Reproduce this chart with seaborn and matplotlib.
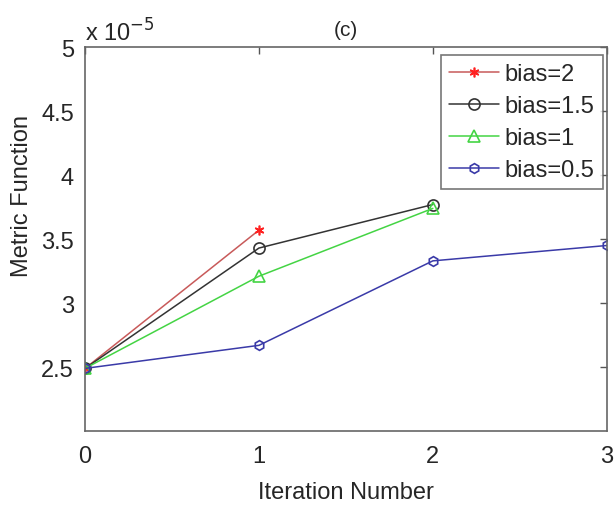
import seaborn as sns
import matplotlib.pyplot as plt
import pandas as pd

# values in units of 1e-5
iters_2 = [0, 1]
bias_2 = [2.49, 3.57]
iters_15 = [0, 1, 2]
bias_15 = [2.49, 3.43, 3.77]
iters_1 = [0, 1, 2]
bias_1 = [2.49, 3.21, 3.74]
iters_05 = [0, 1, 2, 3]
bias_05 = [2.49, 2.67, 3.33, 3.45]

x_ticks = [0, 1, 2, 3]
y_ticks = [2.5, 3, 3.5, 4, 4.5, 5]

sns.set_style('white')
plt.rcParams['font.family'] = ['Liberation Sans', 'DejaVu Sans']

fig = plt.figure(figsize=(6.16, 5.06), dpi=100)
ax = fig.add_axes([0.138, 0.146, 0.847, 0.759])

series = [
    ('bias=2', iters_2, bias_2, '#c85a5a', dict(marker=(6, 2, 0), markersize=7,
                                                 markeredgecolor='#ff2020')),
    ('bias=1.5', iters_15, bias_15, '#333333', dict(marker='o', markersize=8,
                                                     markerfacecolor='none',
                                                     markeredgecolor='#333333')),
    ('bias=1', iters_1, bias_1, '#44d444', dict(marker='^', markersize=9,
                                                 markerfacecolor='none',
                                                 markeredgecolor='#44d444')),
    ('bias=0.5', iters_05, bias_05, '#3a3aa8', dict(marker='h', markersize=7,
                                                     markerfacecolor='none',
                                                     markeredgecolor='#3a3aa8')),
]

for label, xs, ys, color, mk in series:
    df = pd.DataFrame({'x': xs, 'y': ys})
    sns.lineplot(data=df, x='x', y='y', ax=ax, label=label, color=color,
                 linewidth=1.1, markeredgewidth=1.2, **mk)

ax.set_xlim(0, 3)
ax.set_ylim(2.0, 5.0)
ax.set_xticks(x_ticks)
ax.set_xticklabels(['0', '1', '2', '3'])
ax.set_yticks(y_ticks)
ax.set_yticklabels(['2.5', '3', '3.5', '4', '4.5', '5'])
ax.tick_params(direction='in', length=5, labelsize=17, top=True, right=True,
               color='#555555', width=1)
ax.tick_params(axis='x', pad=10)
ax.tick_params(axis='y', pad=8)

for s in ax.spines.values():
    s.set_color('#666666')
    s.set_linewidth(1.2)

ax.set_xlabel('Iteration Number', fontsize=17, va='bottom')
ax.set_ylabel('Metric Function', fontsize=17)
ax.xaxis.set_label_coords(0.5, -0.1875)
ax.yaxis.set_label_coords(-0.1, 0.615)
ax.set_title('(c)', fontsize=15, pad=9)
ax.text(0, 1.016, 'x 10$^{-5}$', transform=ax.transAxes, fontsize=17,
        va='baseline', ha='left')

leg = ax.legend(loc='upper right', fontsize=17, frameon=True, fancybox=False,
                handlelength=2.1, handletextpad=0.25, borderpad=0.35,
                labelspacing=0.42, borderaxespad=0,
                bbox_to_anchor=(0.992, 0.979))
leg.get_frame().set_edgecolor('#555555')
leg.get_frame().set_linewidth(1.2)

fig.savefig('out.png', dpi=100)
